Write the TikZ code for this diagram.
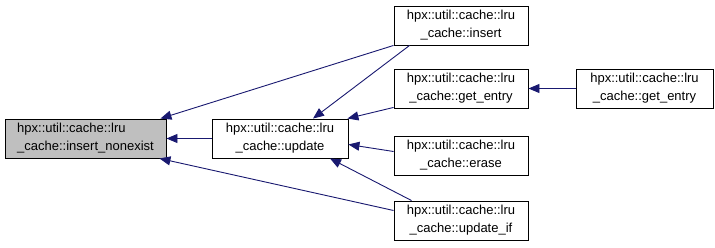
\documentclass[tikz,border=0pt]{standalone}
\usepackage{fontspec}
\setmainfont{Liberation Sans}
\usetikzlibrary{arrows.meta,calc}
\definecolor{edgeblue}{HTML}{191970}
\definecolor{curfill}{HTML}{BFBFBF}
\begin{document}
\begin{tikzpicture}[x=1pt,y=-1pt,
  fn/.style={draw=black,line width=0.9pt,fill=white,rectangle,inner sep=0pt,
    minimum height=39pt,align=center,font=\fontsize{13}{18}\selectfont},
  current/.style={fn,fill=curfill,align=left},
  call/.style={draw=edgeblue,line width=0.9pt,
    -{Triangle[length=11pt,width=9pt,fill=edgeblue]}}]
\useasboundingbox (0,0) rectangle (715,248);

% functions
\node[current,minimum width=161pt] (nonexist) at (85.5,138.5)
  {hpx::util::cache::lru\\\_cache::insert\_nonexist};
\node[fn,minimum width=136pt] (update) at (280,138.5)
  {hpx::util::cache::lru\\\_cache::update};
\node[fn,minimum width=134pt] (insert) at (461,25.5)
  {hpx::util::cache::lru\\\_cache::insert};
\node[fn,minimum width=134pt] (getentry) at (461,88.5)
  {hpx::util::cache::lru\\\_cache::get\_entry};
\node[fn,minimum width=134pt] (erase) at (461,155.5)
  {hpx::util::cache::lru\\\_cache::erase};
\node[fn,minimum width=134pt] (updateif) at (461,220.5)
  {hpx::util::cache::lru\\\_cache::update\_if};
\node[fn,minimum width=137pt] (getentry2) at (644.5,88.5)
  {hpx::util::cache::lru\\\_cache::get\_entry};

% calls
\draw[call] (insert.south west) -- ($(nonexist.north east)+(-6,0)$);
\draw[call] (update.west) -- (nonexist.east);
\draw[call] ($(updateif.west)+(0,-10)$) -- ($(nonexist.south east)+(-7,0)$);
\draw[call] ($(insert.south west)+(16,0)$) -- ($(update.north)+(33,0)$);
\draw[call] ($(getentry.south west)+(0,-1)$) -- ($(update.north east)+(-1,0)$);
\draw[call] ($(erase.west)+(0,-4)$) -- ($(update.east)+(0,6)$);
\draw[call] ($(updateif.north west)+(18,0)$) -- ($(update.south)+(50,0)$);
\draw[call] (getentry2.west) -- (getentry.east);
\end{tikzpicture}
\end{document}
